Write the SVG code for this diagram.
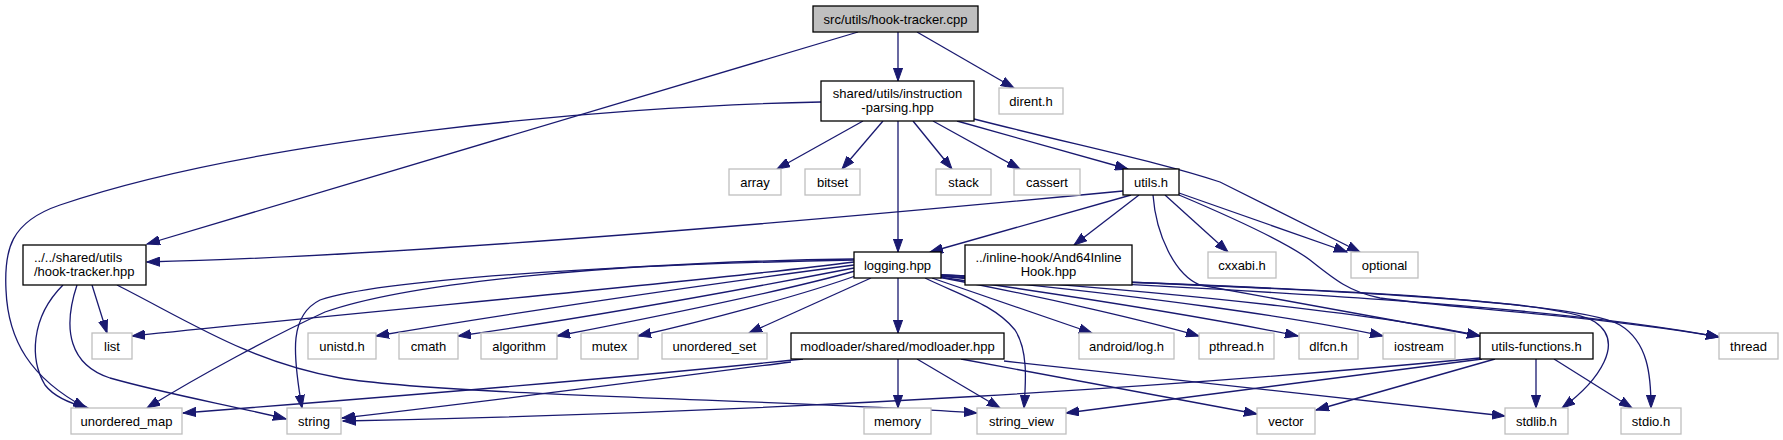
<svg xmlns="http://www.w3.org/2000/svg" width="1783" height="440" viewBox="0 0 1783 440">
<defs>
<marker id="ah" markerUnits="userSpaceOnUse" markerWidth="14" markerHeight="10" refX="13" refY="5" orient="auto" viewBox="0 0 14 10"><path d="M0,0.4 L13,5 L0,9.6 z" fill="#191970" stroke="#191970" stroke-width="1"/></marker>
</defs>
<style>
.e{fill:none;stroke:#191970;stroke-width:1.3;marker-end:url(#ah)}
.n rect{fill:#fff;stroke:#000;stroke-width:1.3}
.g rect{fill:#fff;stroke:#bfbfbf;stroke-width:1.3}
.r rect{fill:#bfbfbf;stroke:#000;stroke-width:1.3}
text{font-family:"Liberation Sans",Arial,sans-serif;font-size:13px;fill:#000;text-anchor:middle}
.l{text-anchor:start}
</style>
<rect width="1783" height="440" fill="#fff"/>
<g id="edges">
<path class="e" d="M898,32 L898,81"/>
<path class="e" d="M858,32 L147,244"/>
<path class="e" d="M917,32 L1014,88"/>
<path class="e" d="M821,102 C600,106 250,140 60,205 C10,222 4,250 6,290 C8,340 30,378 86,408"/>
<path class="e" d="M863,121 L777,169"/>
<path class="e" d="M883,121 L842,169"/>
<path class="e" d="M898,121 L898,252"/>
<path class="e" d="M913,121 L952,169"/>
<path class="e" d="M933,121 L1020,169"/>
<path class="e" d="M957,121 L1128,169"/>
<path class="e" d="M974,119 C1080,146 1160,162 1220,182 L1360,252"/>
<path class="e" d="M1123,191 C800,222 400,256 147,262"/>
<path class="e" d="M1131,195 L930,252"/>
<path class="e" d="M1139,195 L1074,245"/>
<path class="e" d="M1165,195 L1228,252"/>
<path class="e" d="M1179,193 L1347,252"/>
<path class="e" d="M1153,195 C1156,235 1175,275 1200,285 L1480,336"/>
<path class="e" d="M1179,195 C1250,225 1290,245 1310,260 C1335,280 1350,292 1380,298 C1450,308 1600,316 1719,337"/>
<path class="e" d="M854,262 C700,282 400,308 132,336"/>
<path class="e" d="M854,259 C620,262 410,282 325,312 C275,335 200,375 147,408"/>
<path class="e" d="M854,260 C600,265 380,280 320,300 C290,315 292,350 302,408"/>
<path class="e" d="M854,265 C700,285 500,315 376,336"/>
<path class="e" d="M854,268 C750,288 600,316 458,336"/>
<path class="e" d="M855,271 C780,292 650,318 557,336"/>
<path class="e" d="M858,275 C800,296 700,322 638,336"/>
<path class="e" d="M871,278 L749,333"/>
<path class="e" d="M898,278 L898,333"/>
<path class="e" d="M925,278 C960,295 995,305 1015,330 C1028,350 1026,380 1024,408"/>
<path class="e" d="M932,278 L1092,333"/>
<path class="e" d="M938,277 C1050,298 1150,322 1199,336"/>
<path class="e" d="M939,277 C1100,300 1220,320 1298,336"/>
<path class="e" d="M940,276 C1150,296 1300,318 1383,336"/>
<path class="e" d="M940,276 C1200,293 1400,318 1480,336"/>
<path class="e" d="M941,275 C1250,290 1550,305 1719,337"/>
<path class="e" d="M941,275 C1300,288 1560,298 1595,322 C1625,342 1600,380 1562,408"/>
<path class="e" d="M941,275 C1300,288 1580,300 1620,325 C1648,342 1651,375 1651,408"/>
<path class="e" d="M803,359 C600,380 400,396 183,413"/>
<path class="e" d="M791,362 C650,380 500,400 342,418"/>
<path class="e" d="M898,359 L898,408"/>
<path class="e" d="M917,359 L1000,408"/>
<path class="e" d="M961,359 L1257,414"/>
<path class="e" d="M1004,361 L1505,416"/>
<path class="e" d="M1480,358 C1200,385 800,412 343,421"/>
<path class="e" d="M1482,359 L1066,413"/>
<path class="e" d="M1495,359 L1316,410"/>
<path class="e" d="M1536,359 L1536,408"/>
<path class="e" d="M1554,359 L1632,408"/>
<path class="e" d="M63,285 C30,318 30,360 45,385 C55,398 72,404 88,408"/>
<path class="e" d="M77,285 C62,330 70,365 110,378 C170,395 230,405 286,419"/>
<path class="e" d="M92,285 L107,333"/>
<path class="e" d="M117,285 C190,322 250,362 340,378 C450,396 800,400 977,413"/>
</g>
<g id="src" class="r"><rect x="813" y="6" width="165" height="26"/><text x="895.5" y="23.5">src/utils/hook-tracker.cpp</text></g>
<g id="instruction-parsing" class="n"><rect x="821" y="81" width="153" height="40"/><text x="897.5" y="97.5">shared/utils/instruction</text><text x="897.5" y="111.5">-parsing.hpp</text></g>
<g id="dirent" class="g"><rect x="999" y="88" width="64" height="26"/><text x="1031" y="105.5">dirent.h</text></g>
<g id="array" class="g"><rect x="729" y="169" width="52" height="26"/><text x="755" y="186.5">array</text></g>
<g id="bitset" class="g"><rect x="805" y="169" width="55" height="26"/><text x="832.5" y="186.5">bitset</text></g>
<g id="stack" class="g"><rect x="936" y="169" width="55" height="26"/><text x="963.5" y="186.5">stack</text></g>
<g id="cassert" class="g"><rect x="1014" y="169" width="66" height="26"/><text x="1047" y="186.5">cassert</text></g>
<g id="utils" class="n"><rect x="1123" y="169" width="56" height="26"/><text x="1151" y="186.5">utils.h</text></g>
<g id="hook-tracker-hpp" class="n"><rect x="23" y="245" width="123" height="40"/><text class="l" x="34" y="261.5">../../shared/utils</text><text class="l" x="34" y="275.5">/hook-tracker.hpp</text></g>
<g id="logging" class="n"><rect x="854" y="252" width="87" height="26"/><text x="897.5" y="269.5">logging.hpp</text></g>
<g id="and64" class="n"><rect x="965" y="245" width="167" height="40"/><text x="1048.5" y="261.5">../inline-hook/And64Inline</text><text x="1048.5" y="275.5">Hook.hpp</text></g>
<g id="cxxabi" class="g"><rect x="1208" y="252" width="68" height="26"/><text x="1242" y="269.5">cxxabi.h</text></g>
<g id="optional" class="g"><rect x="1351" y="252" width="67" height="26"/><text x="1384.5" y="269.5">optional</text></g>
<g id="list" class="g"><rect x="92" y="333" width="40" height="26"/><text x="112" y="350.5">list</text></g>
<g id="unistd" class="g"><rect x="308" y="333" width="68" height="26"/><text x="342" y="350.5">unistd.h</text></g>
<g id="cmath" class="g"><rect x="399" y="333" width="59" height="26"/><text x="428.5" y="350.5">cmath</text></g>
<g id="algorithm" class="g"><rect x="481" y="333" width="76" height="26"/><text x="519" y="350.5">algorithm</text></g>
<g id="mutex" class="g"><rect x="581" y="333" width="57" height="26"/><text x="609.5" y="350.5">mutex</text></g>
<g id="unordered_set" class="g"><rect x="662" y="333" width="105" height="26"/><text x="714.5" y="350.5">unordered_set</text></g>
<g id="modloader" class="n"><rect x="791" y="333" width="213" height="26"/><text x="897.5" y="350.5">modloader/shared/modloader.hpp</text></g>
<g id="android-log" class="g"><rect x="1079" y="333" width="95" height="26"/><text x="1126.5" y="350.5">android/log.h</text></g>
<g id="pthread" class="g"><rect x="1199" y="333" width="75" height="26"/><text x="1236.5" y="350.5">pthread.h</text></g>
<g id="dlfcn" class="g"><rect x="1299" y="333" width="59" height="26"/><text x="1328.5" y="350.5">dlfcn.h</text></g>
<g id="iostream" class="g"><rect x="1383" y="333" width="72" height="26"/><text x="1419" y="350.5">iostream</text></g>
<g id="utils-functions" class="n"><rect x="1480" y="333" width="113" height="26"/><text x="1536.5" y="350.5">utils-functions.h</text></g>
<g id="thread" class="g"><rect x="1719" y="333" width="59" height="26"/><text x="1748.5" y="350.5">thread</text></g>
<g id="unordered_map" class="g"><rect x="71" y="408" width="111" height="26"/><text x="126.5" y="425.5">unordered_map</text></g>
<g id="string" class="g"><rect x="287" y="408" width="54" height="26"/><text x="314" y="425.5">string</text></g>
<g id="memory" class="g"><rect x="864" y="408" width="67" height="26"/><text x="897.5" y="425.5">memory</text></g>
<g id="string_view" class="g"><rect x="977" y="408" width="89" height="26"/><text x="1021.5" y="425.5">string_view</text></g>
<g id="vector" class="g"><rect x="1257" y="408" width="58" height="26"/><text x="1286" y="425.5">vector</text></g>
<g id="stdlib" class="g"><rect x="1505" y="408" width="63" height="26"/><text x="1536.5" y="425.5">stdlib.h</text></g>
<g id="stdio" class="g"><rect x="1621" y="408" width="60" height="26"/><text x="1651" y="425.5">stdio.h</text></g>
</svg>
